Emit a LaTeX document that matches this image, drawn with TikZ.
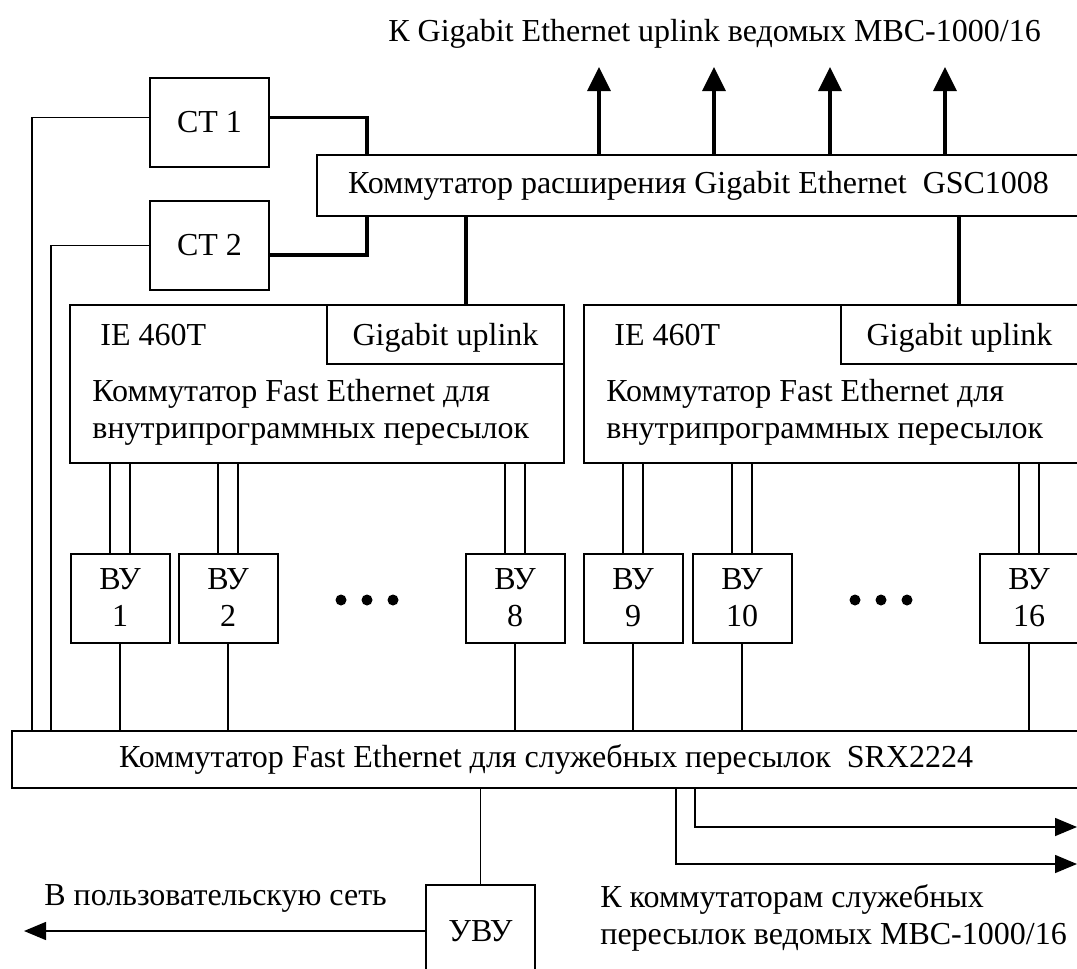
\documentclass[tikz,border=0pt]{standalone}
\usepackage{fontspec}
\setmainfont{Liberation Serif}
\usetikzlibrary{arrows.meta}

\newcommand{\diagfont}{\fontsize{16pt}{18.5pt}\selectfont}

\tikzset{
  box/.style={draw, line width=1pt, inner sep=0pt, outer sep=0pt, align=center, font=\diagfont},
  txt/.style={inner sep=0pt, font=\diagfont},
  wire/.style={line width=0.75pt},
  bus/.style={line width=1.75pt},
  uparrow/.style={bus, -{Triangle[width=11.5pt,length=12pt]}},
  outarrow/.style={wire, -{Triangle[width=9pt,length=11pt]}}
}

\begin{document}
\begin{tikzpicture}[x=0.5pt, y=-0.5pt]
    \useasboundingbox (0,0) rectangle (1077,969);
    \clip (0,0) rectangle (1077,969);

    % switches and stations
    \node[box, minimum width=381.5pt, minimum height=30.5pt] (gsc) at (698.5,185.5) {Коммутатор расширения Gigabit Ethernet~~GSC1008};
    \node[box, minimum width=59.5pt, minimum height=44.5pt] (ct1) at (209.5,122.5) {СТ 1};
    \node[box, minimum width=59.5pt, minimum height=44.5pt] (ct2) at (209.5,245.5) {СТ 2};
    \node[box, minimum width=534pt, minimum height=28.5pt] (srx) at (546,759.5) {Коммутатор Fast Ethernet для служебных пересылок~~SRX2224};
    \node[box, minimum width=54.5pt, minimum height=46pt] (uvu) at (480.5,931) {УВУ};

    \foreach \i/\x in {1/317, 2/831} {
        \node[box, minimum width=247pt, minimum height=79pt] (ie\i) at (\x,384) {};
        \node[box, minimum width=118.5pt, minimum height=29.5pt, text depth=0pt, anchor=north east] (gbu\i) at (ie\i.north east) {Gigabit uplink};
        \node[txt, anchor=base west] (ien\i) at ([xshift=15pt,yshift=-20pt]ie\i.north west) {IE 460T};
        \node[txt, anchor=north west, align=left] (iet\i) at ([xshift=11pt,yshift=-37pt]ie\i.north west) {Коммутатор Fast Ethernet для\\внутрипрограммных пересылок};
    }

    % computing units
    \foreach \n/\x/\i in {1/120/1, 2/228/1, 8/515/1, 9/633/2, 10/742/2, 16/1029/2} {
        \node[box, minimum width=49.5pt, minimum height=44.5pt] (vu\n) at (\x,598) {ВУ\\\n};
        \draw[wire] ([xshift=-5pt]vu\n.north) -- ([xshift=-5pt]vu\n.north |- ie\i.south);
        \draw[wire] ([xshift=5pt]vu\n.north) -- ([xshift=5pt]vu\n.north |- ie\i.south);
        \draw[wire] (vu\n.south) -- (vu\n.south |- srx.north);
    }
    \foreach \x in {341,367,393,855,881,907}
        \fill (\x,600) circle[radius=2.75pt];

    \draw[wire] ([yshift=2.5pt]ct1.west) -| ([xshift=10pt]srx.north west);
    \draw[wire] (ct2.west) -| ([xshift=19.5pt]srx.north west);
    \draw[bus] ([yshift=2.5pt]ct1.east) -| ([xshift=25pt]gsc.north west);
    \draw[bus] ([yshift=-4.75pt]ct2.east) -| ([xshift=25pt]gsc.south west);
    \draw[bus] ([xshift=74.5pt]ie1.north) -- ([xshift=74.5pt]ie1.north |- gsc.south);
    \draw[bus] ([xshift=64pt]ie2.north) -- ([xshift=64pt]ie2.north |- gsc.south);

    \foreach \x in {599,714,830,945} {
        \coordinate (up\x) at (\x,67);
        \draw[uparrow] (gsc.north -| up\x) -- (up\x);
    }

    \coordinate (tap1) at (695,0);
    \coordinate (tap2) at (676,0);
    \coordinate (out1) at (1077,827);
    \coordinate (out2) at (1077,864);
    \coordinate (user) at (24,0);
    \draw[wire] (uvu.north) -- (uvu.north |- srx.south);
    \draw[outarrow] (srx.south -| tap1) |- (out1);
    \draw[outarrow] (srx.south -| tap2) |- (out2);
    \draw[outarrow] (uvu.west) -- (uvu.west -| user);

    \node[txt, anchor=base west] (uplinks) at (388,41) {К Gigabit Ethernet uplink ведомых МВС-1000/16};
    \node[txt, anchor=base west] (usernet) at (44,905) {В пользовательскую сеть};
    \node[txt, anchor=north west, align=left] (slavenet) at (600,884) {К коммутаторам служебных\\пересылок ведомых МВС-1000/16};

\end{tikzpicture}
\end{document}
